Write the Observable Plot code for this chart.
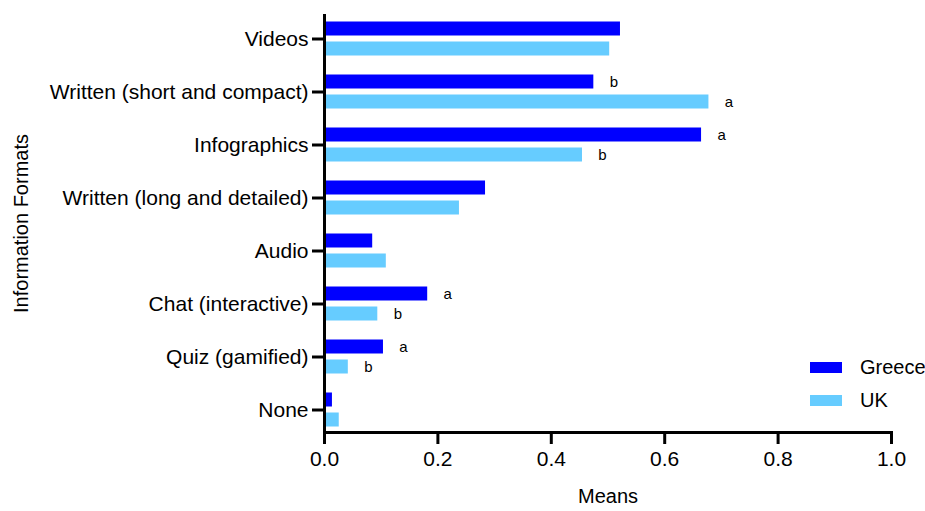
<!DOCTYPE html>
<html>
<head>
<meta charset="utf-8">
<script src="https://cdn.jsdelivr.net/npm/d3@7"></script>
<script src="https://cdn.jsdelivr.net/npm/@observablehq/plot@0.6"></script>
<style>
  html, body { margin: 0; padding: 0; background: #fff; }
  #wrap { position: relative; width: 925px; height: 511px; font-family: "Liberation Sans", Arial, sans-serif; }
  .leg { position: absolute; display: flex; align-items: center; font-size: 20px; color: #000; }
  .sw { width: 32px; height: 11px; margin-right: 18px; }
</style>
</head>
<body>
<div id="wrap"></div>
<script>
const categories = ["Videos", "Written (short and compact)", "Infographics", "Written (long and detailed)", "Audio", "Chat (interactive)", "Quiz (gamified)", "None"];
const series = ["Greece", "UK"];
const greece = [0.522, 0.475, 0.665, 0.284, 0.085, 0.182, 0.104, 0.014];
const uk = [0.503, 0.678, 0.455, 0.238, 0.109, 0.094, 0.042, 0.026];
const greeceLetters = ["", "b", "a", "", "", "a", "a", ""];
const ukLetters = ["", "a", "b", "", "", "b", "b", ""];
const colors = ["#0000FF", "#66CCFF"];
const xTicks = [0, 0.2, 0.4, 0.6, 0.8, 1.0];

const gData = categories.map((c, i) => ({cat: c, value: greece[i], letter: greeceLetters[i]}));
const uData = categories.map((c, i) => ({cat: c, value: uk[i], letter: ukLetters[i]}));

const chart = Plot.plot({
  width: 925,
  height: 511,
  marginLeft: 324,
  marginRight: 34,
  marginTop: 14,
  marginBottom: 79,
  style: {fontFamily: "Liberation Sans, Arial, sans-serif", color: "#000", background: "#fff"},
  x: {domain: [0, 1]},
  y: {domain: categories, range: [11.8, 435.8], padding: 0},
  marks: [
    Plot.barX(gData, {x: "value", y: "cat", fill: colors[0], insetTop: 9.5, insetBottom: 29.5}),
    Plot.barX(uData, {x: "value", y: "cat", fill: colors[1], insetTop: 29.5, insetBottom: 9.5}),
    Plot.text(gData.filter(d => d.letter), {x: "value", y: "cat", text: "letter", dx: 20, dy: -10, fontSize: 15, fill: "#000"}),
    Plot.text(uData.filter(d => d.letter), {x: "value", y: "cat", text: "letter", dx: 20, dy: 10, fontSize: 15, fill: "#000"}),
    Plot.axisY({tickSize: 12, tickPadding: 4, strokeWidth: 3, fontSize: 21, label: null}),
    Plot.axisX({ticks: xTicks, tickFormat: d3.format(".1f"), tickSize: 12, tickPadding: 7, strokeWidth: 3, fontSize: 21, label: null}),
    Plot.ruleX([0], {stroke: "#000", strokeWidth: 3}),
    Plot.frame({anchor: "bottom", stroke: "#000", strokeWidth: 3}),
    Plot.text(["Means"], {frameAnchor: "bottom", text: d => d, dy: 70, fontSize: 20, fill: "#000"}),
    Plot.text(["Information Formats"], {frameAnchor: "left", text: d => d, rotate: -90, textAnchor: "middle", dx: -303, fontSize: 20, fill: "#000"})
  ]
});

const wrap = document.getElementById("wrap");
wrap.appendChild(chart);
const legTops = [356, 389];
series.forEach((s, i) => {
  const el = document.createElement("div");
  el.className = "leg";
  el.style.left = "810px";
  el.style.top = legTops[i] + "px";
  el.style.height = "22px";
  el.innerHTML = `<span class="sw" style="background:${colors[i]}"></span><span>${s}</span>`;
  wrap.appendChild(el);
});
</script>
</body>
</html>
